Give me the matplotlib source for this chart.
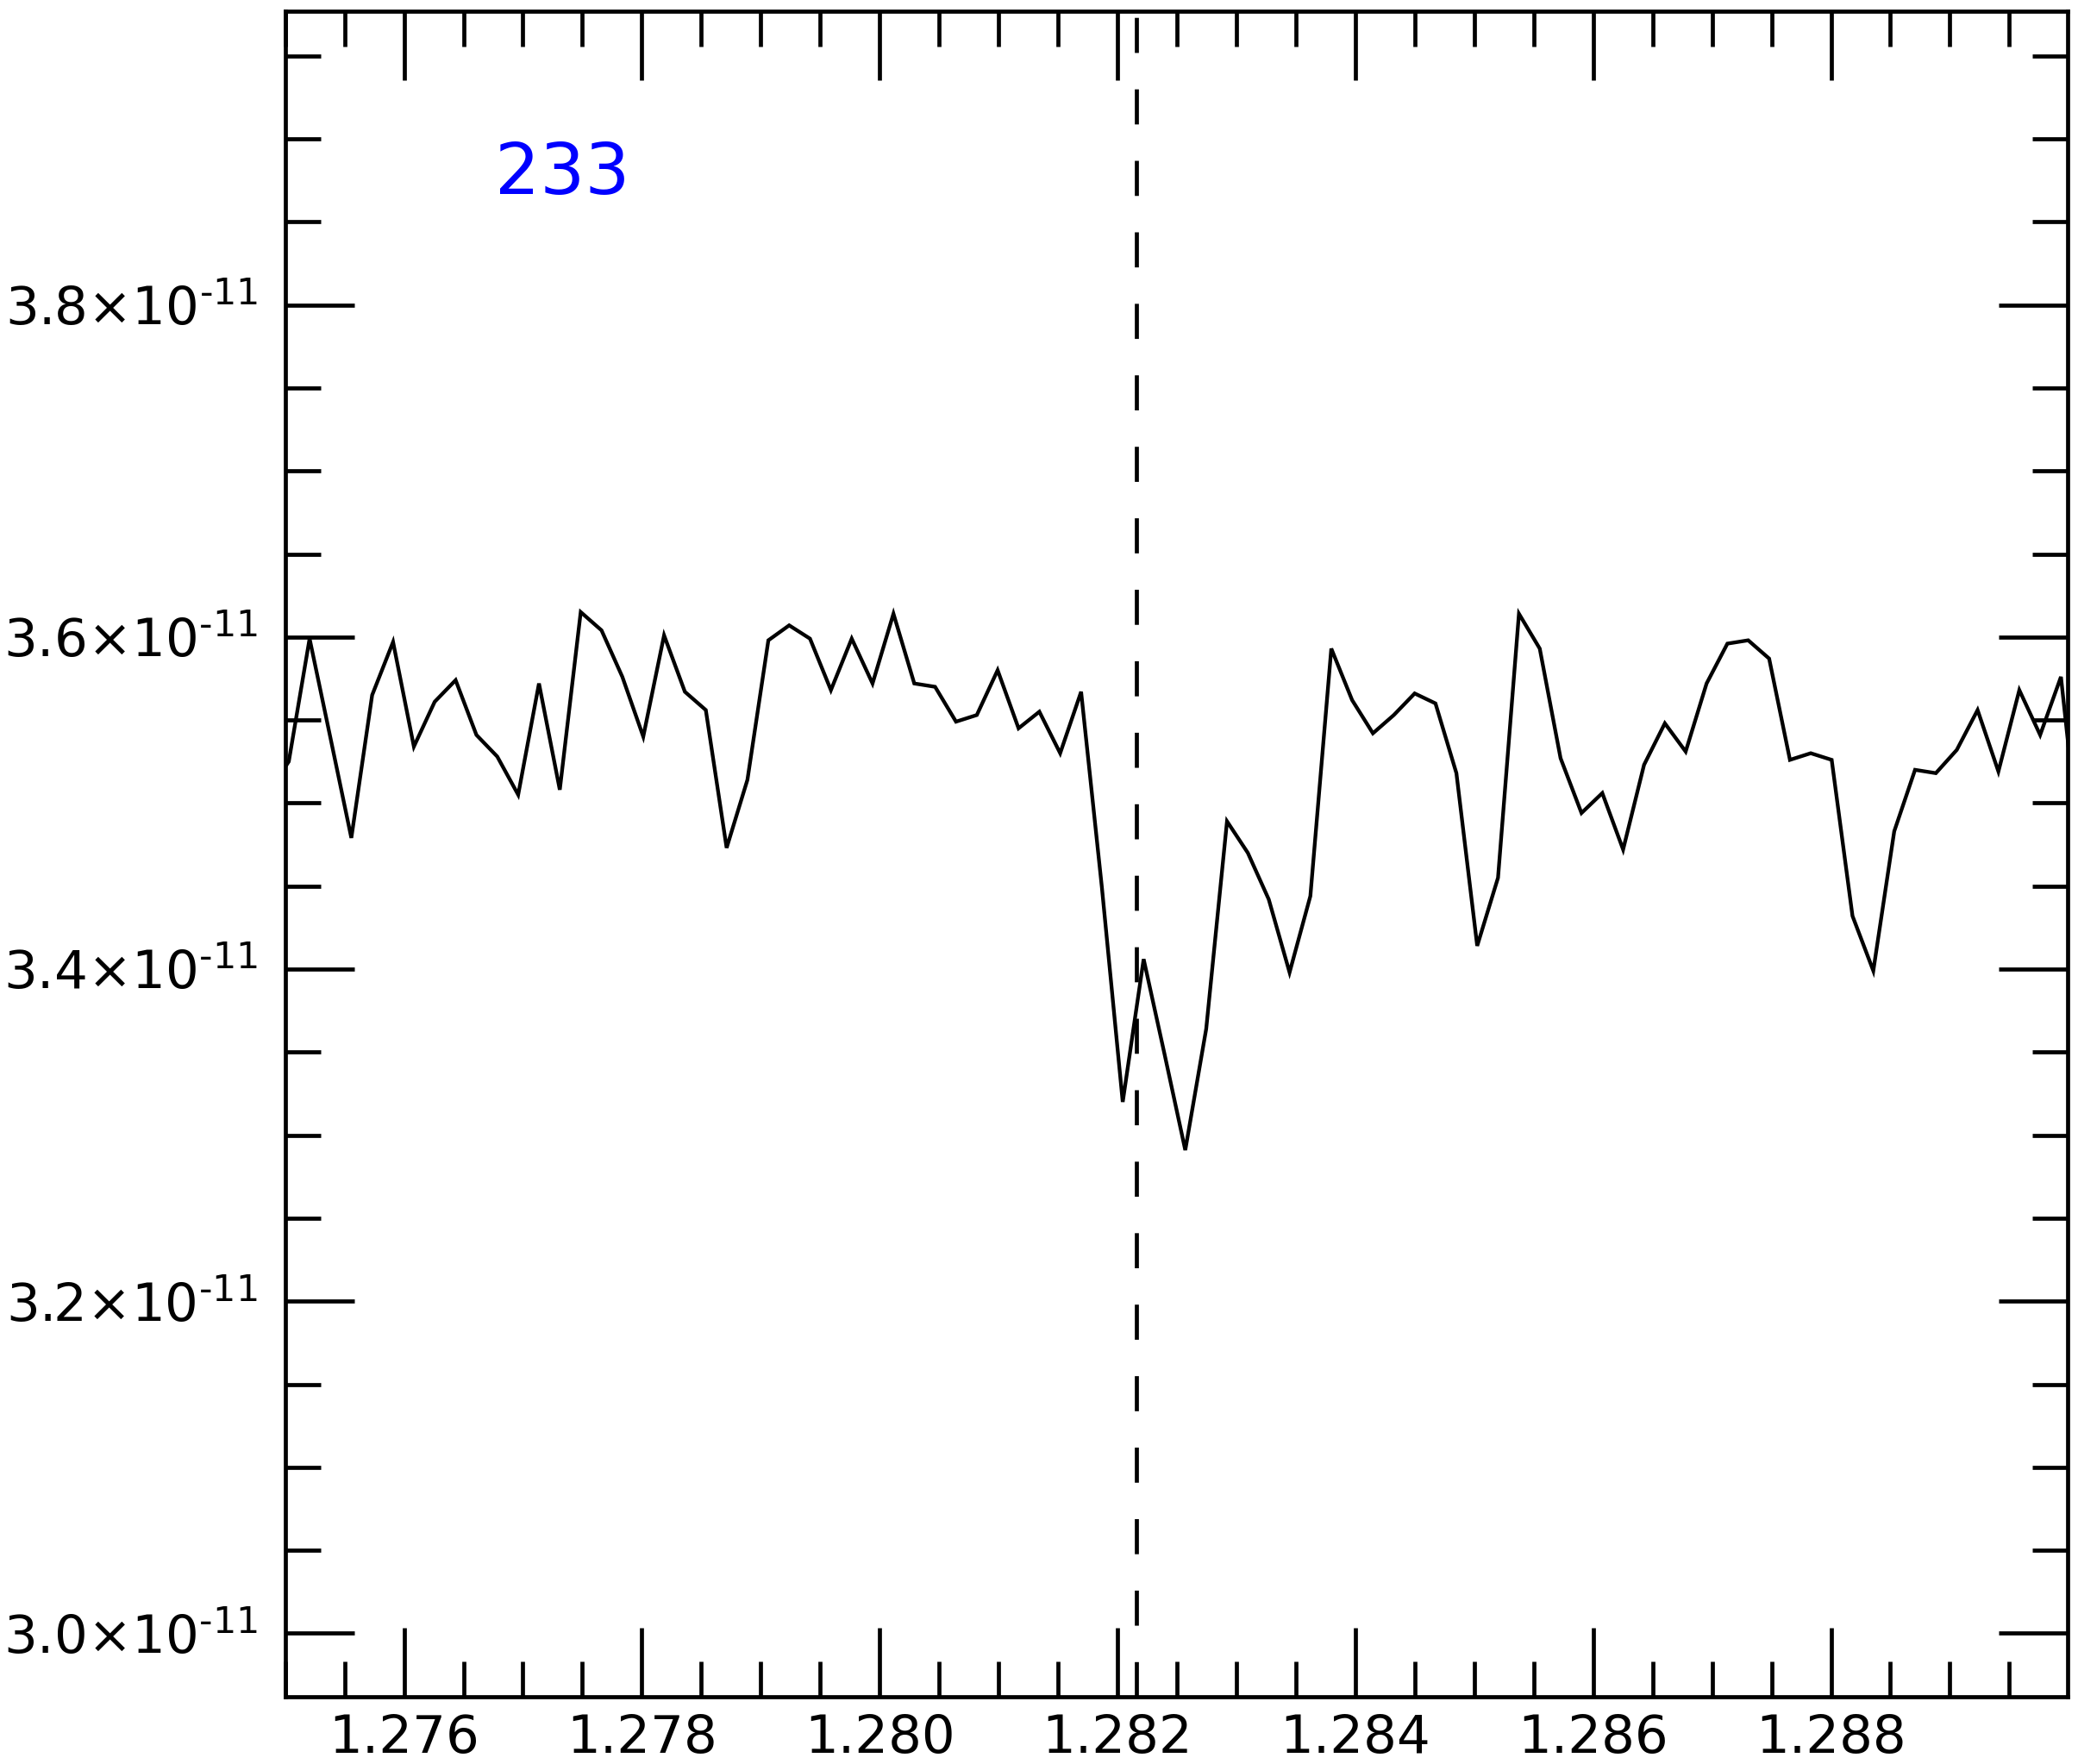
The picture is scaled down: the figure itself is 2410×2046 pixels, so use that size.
import matplotlib
matplotlib.use("Agg")
import matplotlib.pyplot as plt
from matplotlib.ticker import MultipleLocator, FuncFormatter

# wavelength grid (microns)
wavelength = [
    1.274856, 1.275031, 1.275206, 1.275382, 1.275557, 1.275732, 1.275908, 1.276083,
    1.276258, 1.276434, 1.276609, 1.276784, 1.276960, 1.277135, 1.277310, 1.277486,
    1.277661, 1.277836, 1.278012, 1.278187, 1.278362, 1.278538, 1.278713, 1.278888,
    1.279064, 1.279239, 1.279414, 1.279590, 1.279765, 1.279940, 1.280116, 1.280291,
    1.280466, 1.280642, 1.280817, 1.280992, 1.281168, 1.281343, 1.281518, 1.281694,
    1.281869, 1.282044, 1.282220, 1.282395, 1.282570, 1.282746, 1.282921, 1.283096,
    1.283272, 1.283447, 1.283622, 1.283798, 1.283973, 1.284148, 1.284324, 1.284499,
    1.284674, 1.284850, 1.285025, 1.285200, 1.285376, 1.285551, 1.285726, 1.285902,
    1.286077, 1.286252, 1.286428, 1.286603, 1.286778, 1.286954, 1.287129, 1.287304,
    1.287480, 1.287655, 1.287830, 1.288006, 1.288181, 1.288356, 1.288532, 1.288707,
    1.288882, 1.289058, 1.289233, 1.289408, 1.289584, 1.289759, 1.289934, 1.290110,
]

# flux in units of 1e-11
flux_e11 = [
    3.506, 3.525, 3.599, 3.539, 3.479, 3.565, 3.597, 3.534,
    3.561, 3.574, 3.541, 3.528, 3.505, 3.572, 3.508, 3.615,
    3.604, 3.576, 3.540, 3.601, 3.567, 3.556, 3.473, 3.514,
    3.598, 3.607, 3.599, 3.568, 3.599, 3.572, 3.614, 3.572,
    3.570, 3.549, 3.553, 3.580, 3.545, 3.555, 3.530, 3.567,
    3.449, 3.320, 3.406, 3.349, 3.291, 3.364, 3.489, 3.470,
    3.442, 3.398, 3.444, 3.593, 3.562, 3.542, 3.553, 3.566,
    3.560, 3.518, 3.414, 3.455, 3.614, 3.593, 3.527, 3.494,
    3.506, 3.472, 3.523, 3.548, 3.531, 3.572, 3.596, 3.598,
    3.587, 3.526, 3.530, 3.526, 3.432, 3.399, 3.483, 3.520,
    3.518, 3.532, 3.556, 3.519, 3.568, 3.541, 3.576, 3.459,
]
flux = [v * 1e-11 for v in flux_e11]

line_center = 1.28216
label_text = "233"

plt.rcParams['font.family'] = ['DejaVu Sans']
plt.rcParams['lines.scale_dashes'] = False

DPI = 100
fig = plt.figure(figsize=(24.10, 20.46), dpi=DPI)
ax = fig.add_axes([0.1372, 0.0383, 0.8578, 0.9555])

ax.plot(wavelength, flux, color='black', lw=3.1, solid_joinstyle='miter')
ax.axvline(line_center, color='black', lw=3.4, dashes=(29.3, 30.4))

ax.set_xlim(1.275, 1.28999)
ax.set_ylim(2.962e-11, 3.977e-11)

ax.xaxis.set_major_locator(MultipleLocator(0.002))
ax.xaxis.set_minor_locator(MultipleLocator(0.0005))
ax.yaxis.set_major_locator(MultipleLocator(0.2e-11))
ax.yaxis.set_minor_locator(MultipleLocator(0.05e-11))

ax.xaxis.set_major_formatter(FuncFormatter(lambda v, p: f"{v:.3f}"))
ax.yaxis.set_major_formatter(
    FuncFormatter(lambda v, p: f"{v/1e-11:.1f}×10" + r"$^{\text{-11}}$"))

ax.tick_params(which='both', direction='in', top=True, right=True,
               width=3.4, color='black')
ax.tick_params(which='major', length=57.5)
ax.tick_params(which='minor', length=29.5)
ax.tick_params(axis='x', which='major', labelsize=44, pad=14)
ax.tick_params(axis='y', which='major', labelsize=44, pad=23)

for s in ax.spines.values():
    s.set_linewidth(3.4)

ax.text(0.1175, 0.8915, label_text, transform=ax.transAxes, color='#0000ff',
        fontsize=59, ha='left', va='baseline')

fig.savefig('out.png', dpi=DPI)
